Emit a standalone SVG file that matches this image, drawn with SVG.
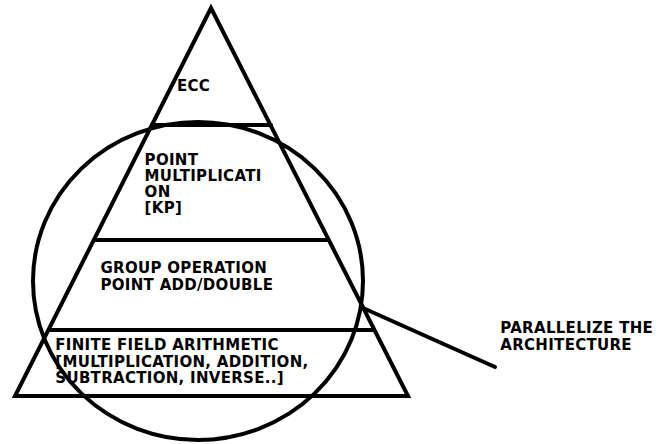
<svg xmlns="http://www.w3.org/2000/svg" width="668" height="444" viewBox="0 0 668 444">
<style>
.s{fill:none;stroke:#000;stroke-width:4;stroke-linejoin:miter;stroke-linecap:round}
.t{font-family:"DejaVu Sans",Verdana,sans-serif;font-weight:bold;font-size:15px;letter-spacing:0.3px;fill:#000}
</style>
<rect width="668" height="444" fill="#fff"/>
<g id="pyramid">
<polygon class="s" points="211,8 15,396 408,396"/>
</g>
<g id="ecc">
<line class="s" x1="152" y1="125" x2="271" y2="125"/>
<text class="t" x="177" y="90.5">ECC</text>
</g>
<g id="point-multiplication">
<line class="s" x1="94" y1="240" x2="328" y2="240"/>
<text class="t" x="144.6" y="165">POINT</text>
<text class="t" x="144.6" y="181">MULTIPLICATI</text>
<text class="t" x="144.6" y="197">ON</text>
<text class="t" x="144.6" y="213">[KP]</text>
</g>
<g id="group-operation">
<line class="s" x1="49" y1="330" x2="373" y2="330"/>
<text class="t" x="100.5" y="273.3">GROUP OPERATION</text>
<text class="t" x="100.5" y="290">POINT ADD/DOUBLE</text>
</g>
<g id="finite-field">
<text class="t" x="55.3" y="350">FINITE FIELD ARITHMETIC</text>
<text class="t" x="55.3" y="366.7">[MULTIPLICATION, ADDITION,</text>
<text class="t" x="55.3" y="383.3">SUBTRACTION, INVERSE..]</text>
</g>
<g id="circle">
<ellipse class="s" cx="198" cy="281" rx="165" ry="159"/>
</g>
<g id="connectors">
<line class="s" x1="363" y1="308" x2="495" y2="367"/>
</g>
<g id="parallelize">
<text class="t" x="500.3" y="333.3">PARALLELIZE THE</text>
<text class="t" x="500.3" y="350">ARCHITECTURE</text>
</g>
</svg>
